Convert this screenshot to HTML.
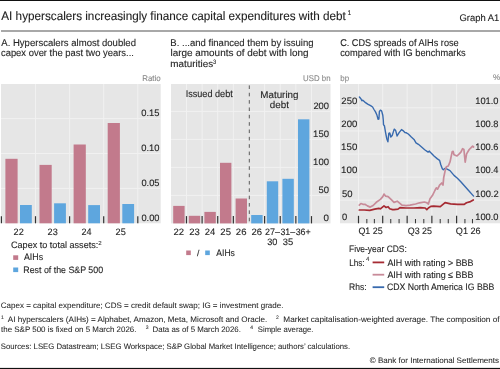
<!DOCTYPE html>
<html><head><meta charset="utf-8"><style>
html,body{margin:0;padding:0;background:#fff;width:500px;height:369px;overflow:hidden}
svg{display:block;will-change:transform}
text{font-family:"Liberation Sans", sans-serif;text-rendering:geometricPrecision}
</style></head><body><svg width="500" height="369" viewBox="0 0 500 369"><rect x="0.00" y="0.00" width="500.00" height="1.00" fill="#111"/><rect x="0.00" y="367.90" width="500.00" height="1.10" fill="#111"/><rect x="1.00" y="30.00" width="499.00" height="2.00" fill="#a8a8a8"/><rect x="1.00" y="84.00" width="159.70" height="139.30" fill="#e6e6e6"/><line x1="35.50" y1="84.00" x2="35.50" y2="223.30" stroke="#f1f1f1" stroke-width="1" /><line x1="69.60" y1="84.00" x2="69.60" y2="223.30" stroke="#f1f1f1" stroke-width="1" /><line x1="103.70" y1="84.00" x2="103.70" y2="223.30" stroke="#f1f1f1" stroke-width="1" /><line x1="137.80" y1="84.00" x2="137.80" y2="223.30" stroke="#f1f1f1" stroke-width="1" /><line x1="1.00" y1="188.40" x2="160.70" y2="188.40" stroke="#f1f1f1" stroke-width="1" /><line x1="1.00" y1="153.50" x2="160.70" y2="153.50" stroke="#f1f1f1" stroke-width="1" /><line x1="1.00" y1="118.60" x2="160.70" y2="118.60" stroke="#f1f1f1" stroke-width="1" /><rect x="5.40" y="158.80" width="12.20" height="64.50" fill="#c27a8c"/><rect x="20.00" y="205.00" width="11.80" height="18.30" fill="#5ea6de"/><rect x="39.50" y="164.90" width="12.20" height="58.40" fill="#c27a8c"/><rect x="54.10" y="203.30" width="11.80" height="20.00" fill="#5ea6de"/><rect x="73.60" y="144.50" width="12.20" height="78.80" fill="#c27a8c"/><rect x="88.20" y="205.10" width="11.80" height="18.20" fill="#5ea6de"/><rect x="107.70" y="123.00" width="12.20" height="100.30" fill="#c27a8c"/><rect x="122.30" y="204.00" width="11.80" height="19.30" fill="#5ea6de"/><line x1="1.40" y1="216.20" x2="1.40" y2="223.30" stroke="#333333" stroke-width="1.2" /><line x1="35.50" y1="216.20" x2="35.50" y2="223.30" stroke="#333333" stroke-width="1.2" /><line x1="69.60" y1="216.20" x2="69.60" y2="223.30" stroke="#333333" stroke-width="1.2" /><line x1="103.70" y1="216.20" x2="103.70" y2="223.30" stroke="#333333" stroke-width="1.2" /><line x1="137.80" y1="216.20" x2="137.80" y2="223.30" stroke="#333333" stroke-width="1.2" /><rect x="13.20" y="255.30" width="5.00" height="4.60" fill="#c27a8c"/><rect x="13.20" y="267.50" width="5.00" height="4.60" fill="#5ea6de"/><rect x="171.00" y="84.00" width="159.50" height="139.40" fill="#e6e6e6"/><line x1="186.47" y1="84.00" x2="186.47" y2="223.40" stroke="#f1f1f1" stroke-width="1" /><line x1="202.10" y1="84.00" x2="202.10" y2="223.40" stroke="#f1f1f1" stroke-width="1" /><line x1="217.72" y1="84.00" x2="217.72" y2="223.40" stroke="#f1f1f1" stroke-width="1" /><line x1="233.35" y1="84.00" x2="233.35" y2="223.40" stroke="#f1f1f1" stroke-width="1" /><line x1="264.60" y1="84.00" x2="264.60" y2="223.40" stroke="#f1f1f1" stroke-width="1" /><line x1="280.23" y1="84.00" x2="280.23" y2="223.40" stroke="#f1f1f1" stroke-width="1" /><line x1="295.85" y1="84.00" x2="295.85" y2="223.40" stroke="#f1f1f1" stroke-width="1" /><line x1="311.48" y1="84.00" x2="311.48" y2="223.40" stroke="#f1f1f1" stroke-width="1" /><line x1="171.00" y1="195.40" x2="330.50" y2="195.40" stroke="#f1f1f1" stroke-width="1" /><line x1="171.00" y1="167.40" x2="330.50" y2="167.40" stroke="#f1f1f1" stroke-width="1" /><line x1="171.00" y1="139.40" x2="330.50" y2="139.40" stroke="#f1f1f1" stroke-width="1" /><line x1="171.00" y1="111.40" x2="330.50" y2="111.40" stroke="#f1f1f1" stroke-width="1" /><rect x="173.20" y="205.90" width="11.40" height="17.50" fill="#c27a8c"/><rect x="188.80" y="215.80" width="11.40" height="7.60" fill="#c27a8c"/><rect x="204.40" y="211.90" width="11.40" height="11.50" fill="#c27a8c"/><rect x="220.00" y="162.80" width="11.40" height="60.60" fill="#c27a8c"/><rect x="235.60" y="198.50" width="11.40" height="24.90" fill="#c27a8c"/><rect x="251.20" y="215.00" width="11.40" height="8.40" fill="#5ea6de"/><rect x="266.80" y="181.30" width="11.40" height="42.10" fill="#5ea6de"/><rect x="282.40" y="178.80" width="11.40" height="44.60" fill="#5ea6de"/><rect x="298.00" y="119.30" width="11.40" height="104.10" fill="#5ea6de"/><line x1="249.30" y1="85.40" x2="249.30" y2="223.40" stroke="#5a5a5a" stroke-width="1.0" stroke-dasharray="3.6,3.75"/><line x1="186.47" y1="216.10" x2="186.47" y2="223.40" stroke="#333333" stroke-width="1.2" /><line x1="202.10" y1="216.10" x2="202.10" y2="223.40" stroke="#333333" stroke-width="1.2" /><line x1="217.72" y1="216.10" x2="217.72" y2="223.40" stroke="#333333" stroke-width="1.2" /><line x1="233.35" y1="216.10" x2="233.35" y2="223.40" stroke="#333333" stroke-width="1.2" /><line x1="264.60" y1="216.10" x2="264.60" y2="223.40" stroke="#333333" stroke-width="1.2" /><line x1="280.23" y1="216.10" x2="280.23" y2="223.40" stroke="#333333" stroke-width="1.2" /><line x1="295.85" y1="216.10" x2="295.85" y2="223.40" stroke="#333333" stroke-width="1.2" /><line x1="311.48" y1="216.10" x2="311.48" y2="223.40" stroke="#333333" stroke-width="1.2" /><rect x="186.20" y="250.50" width="4.60" height="4.60" fill="#c27a8c"/><rect x="205.20" y="250.50" width="4.60" height="4.60" fill="#5ea6de"/><rect x="340.00" y="84.00" width="160.00" height="139.30" fill="#e6e6e6"/><line x1="358.50" y1="84.00" x2="358.50" y2="223.30" stroke="#f1f1f1" stroke-width="1" /><line x1="382.69" y1="84.00" x2="382.69" y2="223.30" stroke="#f1f1f1" stroke-width="1" /><line x1="407.15" y1="84.00" x2="407.15" y2="223.30" stroke="#f1f1f1" stroke-width="1" /><line x1="431.87" y1="84.00" x2="431.87" y2="223.30" stroke="#f1f1f1" stroke-width="1" /><line x1="456.60" y1="84.00" x2="456.60" y2="223.30" stroke="#f1f1f1" stroke-width="1" /><line x1="340.00" y1="200.20" x2="500.00" y2="200.20" stroke="#f1f1f1" stroke-width="1" /><line x1="340.00" y1="177.10" x2="500.00" y2="177.10" stroke="#f1f1f1" stroke-width="1" /><line x1="340.00" y1="154.00" x2="500.00" y2="154.00" stroke="#f1f1f1" stroke-width="1" /><line x1="340.00" y1="130.90" x2="500.00" y2="130.90" stroke="#f1f1f1" stroke-width="1" /><line x1="340.00" y1="107.80" x2="500.00" y2="107.80" stroke="#f1f1f1" stroke-width="1" /><line x1="358.50" y1="215.80" x2="358.50" y2="223.30" stroke="#333333" stroke-width="1.2" /><line x1="366.83" y1="219.00" x2="366.83" y2="223.30" stroke="#333333" stroke-width="1.0" /><line x1="374.36" y1="219.00" x2="374.36" y2="223.30" stroke="#333333" stroke-width="1.0" /><line x1="382.69" y1="215.80" x2="382.69" y2="223.30" stroke="#333333" stroke-width="1.2" /><line x1="390.75" y1="219.00" x2="390.75" y2="223.30" stroke="#333333" stroke-width="1.0" /><line x1="399.08" y1="219.00" x2="399.08" y2="223.30" stroke="#333333" stroke-width="1.0" /><line x1="407.15" y1="215.80" x2="407.15" y2="223.30" stroke="#333333" stroke-width="1.2" /><line x1="415.48" y1="219.00" x2="415.48" y2="223.30" stroke="#333333" stroke-width="1.0" /><line x1="423.81" y1="219.00" x2="423.81" y2="223.30" stroke="#333333" stroke-width="1.0" /><line x1="431.87" y1="215.80" x2="431.87" y2="223.30" stroke="#333333" stroke-width="1.2" /><line x1="440.21" y1="219.00" x2="440.21" y2="223.30" stroke="#333333" stroke-width="1.0" /><line x1="448.27" y1="219.00" x2="448.27" y2="223.30" stroke="#333333" stroke-width="1.0" /><line x1="456.60" y1="215.80" x2="456.60" y2="223.30" stroke="#333333" stroke-width="1.2" /><line x1="464.93" y1="219.00" x2="464.93" y2="223.30" stroke="#333333" stroke-width="1.0" /><line x1="472.46" y1="219.00" x2="472.46" y2="223.30" stroke="#333333" stroke-width="1.0" /><polyline points="359.4,97.0 360.9,98.7 361.9,100.7 362.8,100.2 364.8,102.1 367.7,104.1 370.6,105.6 372.6,107.0 374.0,109.5 375.5,111.9 377.0,115.3 378.0,119.2 378.9,119.0 379.4,111.4 380.4,110.2 381.6,110.9 382.8,115.3 383.3,120.2 383.5,124.8 384.4,125.7 385.4,131.6 386.7,138.4 387.9,141.8 388.8,133.5 389.8,133.0 390.8,137.0 392.2,135.5 394.2,129.1 395.7,130.6 397.1,136.0 399.1,132.6 401.5,129.6 403.0,130.6 404.9,132.6 406.4,132.8 408.3,134.0 411.3,137.0 414.0,139.4 416.0,142.8 418.4,144.3 421.3,146.7 424.7,149.7 428.1,152.1 429.4,151.1 431.1,153.1 434.0,156.0 437.4,158.9 439.6,160.4 440.8,164.8 442.3,168.7 443.3,169.7 445.2,168.2 450.0,170.6 454.0,175.4 457.4,178.2 460.8,181.7 464.8,186.2 468.8,190.8 473.6,196.1" fill="none" stroke="#386aae" stroke-width="1.4" stroke-linejoin="round" stroke-linecap="round"/><polyline points="359.3,205.1 360.9,203.5 362.9,204.3 364.9,204.3 367.4,205.9 370.2,207.1 373.1,205.5 376.3,202.3 380.4,199.4 382.8,196.6 384.0,194.1 385.7,196.2 388.1,196.6 391.8,200.2 394.0,202.4 397.2,201.2 399.6,203.2 402.0,205.2 406.0,205.6 410.0,205.2 415.6,204.0 419.6,202.8 424.4,202.0 426.8,202.8 428.4,204.0 430.0,198.8 432.4,195.6 434.9,190.5 436.3,187.8 437.6,189.1 439.6,185.1 441.7,183.0 443.0,185.1 443.7,177.6 445.1,170.8 446.4,166.8 448.3,166.0 450.1,161.7 452.2,151.7 453.1,151.3 454.0,154.7 457.0,156.0 459.2,153.9 460.9,152.1 462.6,148.7 463.9,149.5 465.2,162.1 466.6,153.9 469.2,149.5 470.9,147.8 472.6,146.1 473.6,147.0" fill="none" stroke="#c88b99" stroke-width="1.7" stroke-linejoin="round" stroke-linecap="round"/><polyline points="359.3,210.0 364.1,210.0 369.8,210.4 374.7,209.2 378.8,208.4 380.4,208.8 384.0,205.9 386.1,207.5 388.1,206.7 389.7,208.8 392.6,209.6 394.0,209.6 398.0,209.2 400.0,207.6 406.0,208.0 414.0,208.0 420.4,207.6 425.2,208.0 426.8,209.6 428.4,208.0 430.8,206.4 433.6,206.1 440.3,206.7 445.1,202.7 450.6,203.9 457.4,204.4 464.2,204.4 466.5,202.7 470.5,201.6 473.3,199.9" fill="none" stroke="#a62b33" stroke-width="1.7" stroke-linejoin="round" stroke-linecap="round"/><line x1="372.60" y1="262.40" x2="384.20" y2="262.40" stroke="#a62b33" stroke-width="1.8" /><line x1="372.60" y1="274.70" x2="384.20" y2="274.70" stroke="#c88b99" stroke-width="1.8" /><line x1="372.60" y1="287.20" x2="384.20" y2="287.20" stroke="#386aae" stroke-width="1.8" /><text x="1.30" y="20.30" font-size="12.2" fill="#1e1e1e" stroke="#1e1e1e" stroke-width="0.12" textLength="344.42" lengthAdjust="spacingAndGlyphs">AI hyperscalers increasingly finance capital expenditures with debt</text><text x="347.50" y="14.90" font-size="6.8" fill="#1e1e1e" stroke="#1e1e1e" stroke-width="0.06">1</text><text x="459.51" y="20.60" font-size="9.6" fill="#1e1e1e" stroke="#1e1e1e" stroke-width="0.12" textLength="39.73" lengthAdjust="spacingAndGlyphs">Graph A1</text><text x="1.30" y="45.60" font-size="9.8" fill="#262626" stroke="#262626" stroke-width="0.12" textLength="134.67" lengthAdjust="spacingAndGlyphs">A. Hyperscalers almost doubled</text><text x="0.94" y="56.20" font-size="9.8" fill="#262626" stroke="#262626" stroke-width="0.12" textLength="132.98" lengthAdjust="spacingAndGlyphs">capex over the past two years...</text><text x="170.37" y="45.60" font-size="9.8" fill="#262626" stroke="#262626" stroke-width="0.12" textLength="143.18" lengthAdjust="spacingAndGlyphs">B. ...and financed them by issuing</text><text x="170.47" y="56.20" font-size="9.8" fill="#262626" stroke="#262626" stroke-width="0.12" textLength="138.00" lengthAdjust="spacingAndGlyphs">large amounts of debt with long</text><text x="170.37" y="66.80" font-size="9.8" fill="#262626" stroke="#262626" stroke-width="0.12" textLength="42.78" lengthAdjust="spacingAndGlyphs">maturities</text><text x="212.97" y="63.80" font-size="6.3" fill="#262626" stroke="#262626" stroke-width="0.06" textLength="3.28" lengthAdjust="spacingAndGlyphs">3</text><text x="340.13" y="45.60" font-size="9.8" fill="#262626" stroke="#262626" stroke-width="0.12" textLength="118.53" lengthAdjust="spacingAndGlyphs">C. CDS spreads of AIHs rose</text><text x="340.25" y="56.20" font-size="9.8" fill="#262626" stroke="#262626" stroke-width="0.12" textLength="125.39" lengthAdjust="spacingAndGlyphs">compared with IG benchmarks</text><text x="142.20" y="80.60" font-size="8.3" fill="#8a8a8a" stroke="#8a8a8a" stroke-width="0.12" textLength="18.45" lengthAdjust="spacingAndGlyphs">Ratio</text><text x="141.32" y="115.60" font-size="9.3" fill="#262626" stroke="#262626" stroke-width="0.12" textLength="18.24" lengthAdjust="spacingAndGlyphs">0.15</text><text x="141.32" y="150.70" font-size="9.3" fill="#262626" stroke="#262626" stroke-width="0.12" textLength="18.24" lengthAdjust="spacingAndGlyphs">0.10</text><text x="141.43" y="186.00" font-size="9.3" fill="#262626" stroke="#262626" stroke-width="0.12" textLength="18.03" lengthAdjust="spacingAndGlyphs">0.05</text><text x="141.43" y="220.80" font-size="9.3" fill="#262626" stroke="#262626" stroke-width="0.12" textLength="18.03" lengthAdjust="spacingAndGlyphs">0.00</text><text x="13.61" y="234.80" font-size="9.3" fill="#262626" stroke="#262626" stroke-width="0.12" textLength="10.15" lengthAdjust="spacingAndGlyphs">22</text><text x="47.61" y="234.80" font-size="9.3" fill="#262626" stroke="#262626" stroke-width="0.12" textLength="10.15" lengthAdjust="spacingAndGlyphs">23</text><text x="81.62" y="234.80" font-size="9.3" fill="#262626" stroke="#262626" stroke-width="0.12" textLength="10.02" lengthAdjust="spacingAndGlyphs">24</text><text x="115.61" y="234.80" font-size="9.3" fill="#262626" stroke="#262626" stroke-width="0.12" textLength="10.15" lengthAdjust="spacingAndGlyphs">25</text><text x="11.01" y="248.40" font-size="9.3" fill="#262626" stroke="#262626" stroke-width="0.12" textLength="87.27" lengthAdjust="spacingAndGlyphs">Capex to total assets:</text><text x="98.24" y="244.90" font-size="5.8" fill="#262626" stroke="#262626" stroke-width="0.06" textLength="3.41" lengthAdjust="spacingAndGlyphs">2</text><text x="24.00" y="260.30" font-size="9.3" fill="#262626" stroke="#262626" stroke-width="0.12" textLength="19.08" lengthAdjust="spacingAndGlyphs">AIHs</text><text x="23.29" y="272.70" font-size="9.3" fill="#262626" stroke="#262626" stroke-width="0.12" textLength="79.82" lengthAdjust="spacingAndGlyphs">Rest of the S&amp;P 500</text><text x="303.11" y="81.00" font-size="8.3" fill="#8a8a8a" stroke="#8a8a8a" stroke-width="0.12" textLength="27.42" lengthAdjust="spacingAndGlyphs">USD bn</text><text x="185.69" y="96.60" font-size="9.8" fill="#262626" stroke="#262626" stroke-width="0.12" textLength="47.04" lengthAdjust="spacingAndGlyphs">Issued debt</text><text x="260.35" y="97.50" font-size="9.8" fill="#262626" stroke="#262626" stroke-width="0.12">Maturing</text><text x="269.82" y="107.90" font-size="9.8" fill="#262626" stroke="#262626" stroke-width="0.12" textLength="19.15" lengthAdjust="spacingAndGlyphs">debt</text><text x="313.40" y="108.55" font-size="9.3" fill="#262626" stroke="#262626" stroke-width="0.12" textLength="15.60" lengthAdjust="spacingAndGlyphs">200</text><text x="313.13" y="136.65" font-size="9.3" fill="#262626" stroke="#262626" stroke-width="0.12" textLength="15.87" lengthAdjust="spacingAndGlyphs">150</text><text x="313.13" y="164.75" font-size="9.3" fill="#262626" stroke="#262626" stroke-width="0.12" textLength="15.87" lengthAdjust="spacingAndGlyphs">100</text><text x="318.42" y="192.75" font-size="9.3" fill="#262626" stroke="#262626" stroke-width="0.12" textLength="10.53" lengthAdjust="spacingAndGlyphs">50</text><text x="323.61" y="220.75" font-size="9.3" fill="#262626" stroke="#262626" stroke-width="0.12" textLength="5.44" lengthAdjust="spacingAndGlyphs">0</text><text x="173.49" y="234.90" font-size="9.3" fill="#262626" stroke="#262626" stroke-width="0.12" textLength="10.59" lengthAdjust="spacingAndGlyphs">22</text><text x="189.19" y="234.90" font-size="9.3" fill="#262626" stroke="#262626" stroke-width="0.12" textLength="10.59" lengthAdjust="spacingAndGlyphs">23</text><text x="204.69" y="234.90" font-size="9.3" fill="#262626" stroke="#262626" stroke-width="0.12" textLength="10.45" lengthAdjust="spacingAndGlyphs">24</text><text x="220.39" y="234.90" font-size="9.3" fill="#262626" stroke="#262626" stroke-width="0.12" textLength="10.59" lengthAdjust="spacingAndGlyphs">25</text><text x="235.89" y="234.90" font-size="9.3" fill="#262626" stroke="#262626" stroke-width="0.12" textLength="10.59" lengthAdjust="spacingAndGlyphs">26</text><text x="251.49" y="234.90" font-size="9.3" fill="#262626" stroke="#262626" stroke-width="0.12" textLength="10.59" lengthAdjust="spacingAndGlyphs">26</text><text x="265.12" y="234.90" font-size="9.3" fill="#262626" stroke="#262626" stroke-width="0.12" textLength="14.89" lengthAdjust="spacingAndGlyphs">27–</text><text x="280.44" y="234.90" font-size="9.3" fill="#262626" stroke="#262626" stroke-width="0.12" textLength="14.77" lengthAdjust="spacingAndGlyphs">31–</text><text x="295.64" y="234.90" font-size="9.3" fill="#262626" stroke="#262626" stroke-width="0.12" textLength="15.15" lengthAdjust="spacingAndGlyphs">36+</text><text x="267.13" y="245.40" font-size="9.3" fill="#262626" stroke="#262626" stroke-width="0.12" textLength="10.21" lengthAdjust="spacingAndGlyphs">30</text><text x="282.82" y="245.40" font-size="9.3" fill="#262626" stroke="#262626" stroke-width="0.12" textLength="10.45" lengthAdjust="spacingAndGlyphs">35</text><text x="196.90" y="256.10" font-size="8.6" fill="#262626" stroke="#262626" stroke-width="0.12">/</text><text x="216.30" y="256.10" font-size="9.3" fill="#262626" stroke="#262626" stroke-width="0.12" textLength="18.57" lengthAdjust="spacingAndGlyphs">AIHs</text><text x="340.32" y="80.70" font-size="8.3" fill="#8a8a8a" stroke="#8a8a8a" stroke-width="0.12" textLength="8.82" lengthAdjust="spacingAndGlyphs">bp</text><text x="493.06" y="80.30" font-size="8.3" fill="#8a8a8a" stroke="#8a8a8a" stroke-width="0.12" textLength="7.20" lengthAdjust="spacingAndGlyphs">%</text><text x="341.39" y="104.00" font-size="9.3" fill="#262626" stroke="#262626" stroke-width="0.12" textLength="15.91" lengthAdjust="spacingAndGlyphs">250</text><text x="341.39" y="127.15" font-size="9.3" fill="#262626" stroke="#262626" stroke-width="0.12" textLength="15.91" lengthAdjust="spacingAndGlyphs">200</text><text x="341.12" y="150.30" font-size="9.3" fill="#262626" stroke="#262626" stroke-width="0.12" textLength="16.19" lengthAdjust="spacingAndGlyphs">150</text><text x="341.12" y="173.45" font-size="9.3" fill="#262626" stroke="#262626" stroke-width="0.12" textLength="16.19" lengthAdjust="spacingAndGlyphs">100</text><text x="341.92" y="196.60" font-size="9.3" fill="#262626" stroke="#262626" stroke-width="0.12" textLength="10.53" lengthAdjust="spacingAndGlyphs">50</text><text x="341.92" y="219.75" font-size="9.3" fill="#262626" stroke="#262626" stroke-width="0.12" textLength="5.20" lengthAdjust="spacingAndGlyphs">0</text><text x="475.25" y="104.00" font-size="9.3" fill="#262626" stroke="#262626" stroke-width="0.12">101.0</text><text x="475.25" y="127.15" font-size="9.3" fill="#262626" stroke="#262626" stroke-width="0.12">100.8</text><text x="475.25" y="150.30" font-size="9.3" fill="#262626" stroke="#262626" stroke-width="0.12">100.6</text><text x="475.26" y="173.45" font-size="9.3" fill="#262626" stroke="#262626" stroke-width="0.12" textLength="23.11" lengthAdjust="spacingAndGlyphs">100.4</text><text x="475.25" y="196.60" font-size="9.3" fill="#262626" stroke="#262626" stroke-width="0.12" textLength="23.37" lengthAdjust="spacingAndGlyphs">100.2</text><text x="475.25" y="219.75" font-size="9.3" fill="#262626" stroke="#262626" stroke-width="0.12">100.0</text><text x="358.42" y="233.50" font-size="9.3" fill="#262626" stroke="#262626" stroke-width="0.12" textLength="24.32" lengthAdjust="spacingAndGlyphs">Q1 25</text><text x="407.72" y="233.50" font-size="9.3" fill="#262626" stroke="#262626" stroke-width="0.12" textLength="24.32" lengthAdjust="spacingAndGlyphs">Q3 25</text><text x="455.81" y="233.60" font-size="9.3" fill="#262626" stroke="#262626" stroke-width="0.12" textLength="24.83" lengthAdjust="spacingAndGlyphs">Q1 26</text><text x="349.12" y="252.00" font-size="9.3" fill="#262626" stroke="#262626" stroke-width="0.12" textLength="57.70" lengthAdjust="spacingAndGlyphs">Five-year CDS:</text><text x="349.14" y="265.60" font-size="9.3" fill="#262626" stroke="#262626" stroke-width="0.12" textLength="15.49" lengthAdjust="spacingAndGlyphs">Lhs:</text><text x="365.88" y="261.20" font-size="6.0" fill="#262626" stroke="#262626" stroke-width="0.06">4</text><text x="387.40" y="265.60" font-size="9.3" fill="#262626" stroke="#262626" stroke-width="0.12" textLength="86.11" lengthAdjust="spacingAndGlyphs">AIH with rating &gt; BBB</text><text x="387.40" y="277.90" font-size="9.3" fill="#262626" stroke="#262626" stroke-width="0.12" textLength="86.04" lengthAdjust="spacingAndGlyphs">AIH with rating ≤ BBB</text><text x="349.11" y="290.10" font-size="9.3" fill="#262626" stroke="#262626" stroke-width="0.12" textLength="17.49" lengthAdjust="spacingAndGlyphs">Rhs:</text><text x="386.93" y="290.30" font-size="9.3" fill="#262626" stroke="#262626" stroke-width="0.12" textLength="107.49" lengthAdjust="spacingAndGlyphs">CDX North America IG BBB</text><text x="0.82" y="307.80" font-size="7.9" fill="#262626" stroke="#262626" stroke-width="0.06" textLength="282.66" lengthAdjust="spacingAndGlyphs">Capex = capital expenditure; CDS = credit default swap; IG = investment grade.</text><text x="1.12" y="319.00" font-size="5.0" fill="#262626" stroke="#262626" stroke-width="0.06">1</text><text x="7.80" y="321.70" font-size="7.9" fill="#262626" stroke="#262626" stroke-width="0.06" textLength="259.52" lengthAdjust="spacingAndGlyphs">AI hyperscalers (AIHs) = Alphabet, Amazon, Meta, Microsoft and Oracle.</text><text x="275.95" y="319.00" font-size="5.0" fill="#262626" stroke="#262626" stroke-width="0.06">2</text><text x="283.35" y="321.70" font-size="7.9" fill="#262626" stroke="#262626" stroke-width="0.06" textLength="216.17" lengthAdjust="spacingAndGlyphs">Market capitalisation-weighted average. The composition of</text><text x="1.07" y="332.10" font-size="7.9" fill="#262626" stroke="#262626" stroke-width="0.06" textLength="135.41" lengthAdjust="spacingAndGlyphs">the S&amp;P 500 is fixed on 5 March 2026.</text><text x="145.65" y="329.40" font-size="5.0" fill="#262626" stroke="#262626" stroke-width="0.06">3</text><text x="152.58" y="332.10" font-size="7.9" fill="#262626" stroke="#262626" stroke-width="0.06" textLength="88.36" lengthAdjust="spacingAndGlyphs">Data as of 5 March 2026.</text><text x="250.28" y="329.40" font-size="5.0" fill="#262626" stroke="#262626" stroke-width="0.06">4</text><text x="257.83" y="332.10" font-size="7.9" fill="#262626" stroke="#262626" stroke-width="0.06" textLength="55.63" lengthAdjust="spacingAndGlyphs">Simple average.</text><text x="0.83" y="349.20" font-size="7.9" fill="#262626" stroke="#262626" stroke-width="0.06" textLength="349.33" lengthAdjust="spacingAndGlyphs">Sources: LSEG Datastream; LSEG Workspace; S&amp;P Global Market Intelligence; authors’ calculations.</text><text x="369.87" y="363.00" font-size="7.9" fill="#262626" stroke="#262626" stroke-width="0.06" textLength="129.18" lengthAdjust="spacingAndGlyphs">© Bank for International Settlements</text></svg></body></html>
